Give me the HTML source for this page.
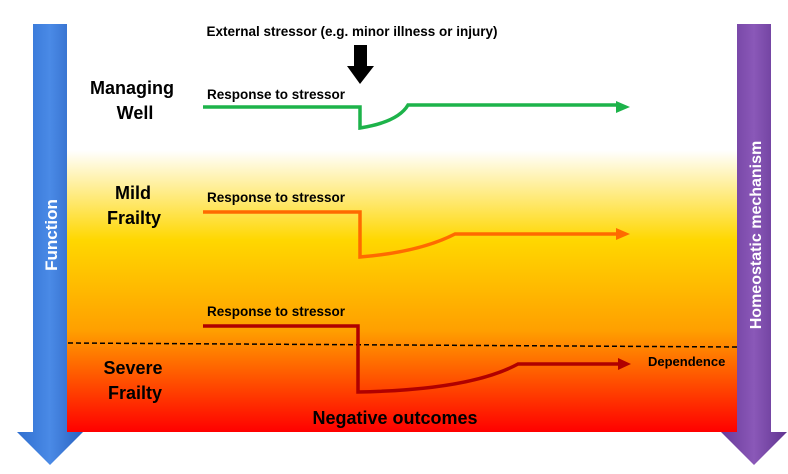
<!DOCTYPE html>
<html><head><style>body{margin:0;width:788px;height:469px;overflow:hidden;background:#fff;font-family:"Liberation Sans",sans-serif}</style></head><body>
<svg width="788" height="469" xmlns="http://www.w3.org/2000/svg">
<defs>
<linearGradient id="bg" x1="0" y1="0" x2="0" y2="1"><stop offset="0" stop-color="#fff"/><stop offset="0.31" stop-color="#fff"/><stop offset="0.53" stop-color="#ffd700"/><stop offset="0.75" stop-color="#ffa000"/><stop offset="1" stop-color="#ff0000"/></linearGradient>
<linearGradient id="bl" x1="0" y1="0" x2="1" y2="0"><stop offset="0" stop-color="#2f6fd0"/><stop offset="0.5" stop-color="#4a8ae6"/><stop offset="1" stop-color="#2a62c0"/></linearGradient>
<linearGradient id="pu" x1="0" y1="0" x2="1" y2="0"><stop offset="0" stop-color="#6a3b9a"/><stop offset="0.5" stop-color="#8a58b8"/><stop offset="1" stop-color="#603490"/></linearGradient>
</defs>
<rect x="67" y="24" width="670" height="408" fill="url(#bg)"/>
<polygon points="33,24 67,24 67,432 83,432 50,465 17,432 33,432" fill="url(#bl)"/>
<polygon points="737,24 771,24 771,432 787,432 754,465 721,432 737,432" fill="url(#pu)"/>
<text transform="translate(57,235) rotate(-90)" text-anchor="middle" fill="#fff" font-size="17" font-weight="bold">Function</text>
<text transform="translate(761,235) rotate(-90)" text-anchor="middle" fill="#fff" font-size="16" font-weight="bold">Homeostatic mechanism</text>
<line x1="68" y1="343" x2="737" y2="347" stroke="#000" stroke-width="1.5" stroke-dasharray="5,3"/>
<text x="352" y="36" text-anchor="middle" font-size="13.5" font-weight="bold">External stressor (e.g. minor illness or injury)</text>
<polygon points="354,45 367,45 367,66 374,66 360,84 347,66 354,66"/>
<g font-weight="bold" text-anchor="middle" font-size="18">
<text x="132" y="94">Managing</text><text x="135" y="119">Well</text>
<text x="133" y="199">Mild</text><text x="134" y="224">Frailty</text>
<text x="133" y="374">Severe</text><text x="135" y="399">Frailty</text>
</g>
<g font-weight="bold" font-size="13.5"><text x="207" y="99">Response to stressor</text><text x="207" y="202">Response to stressor</text><text x="207" y="316">Response to stressor</text></g>
<text x="648" y="366" font-size="13" font-weight="bold">Dependence</text>
<text x="395" y="424" text-anchor="middle" font-size="18" font-weight="bold">Negative outcomes</text>
<g fill="none" stroke-width="3.5">
<path d="M203,107 H360 V128 Q398,122 408,105 H618" stroke="#1db34a"/>
<path d="M203,212 H360 V257 Q420,252 455,234 H618" stroke="#ff6a00"/>
<path d="M203,326 H358 V392 Q470,390 518,364 H620" stroke="#b00000"/>
</g>
<polygon points="616,101 630,107 616,113" fill="#1db34a"/>
<polygon points="616,228 630,234 616,240" fill="#ff6a00"/>
<polygon points="618,358 631,364 618,370" fill="#b00000"/>
</svg>
</body></html>
